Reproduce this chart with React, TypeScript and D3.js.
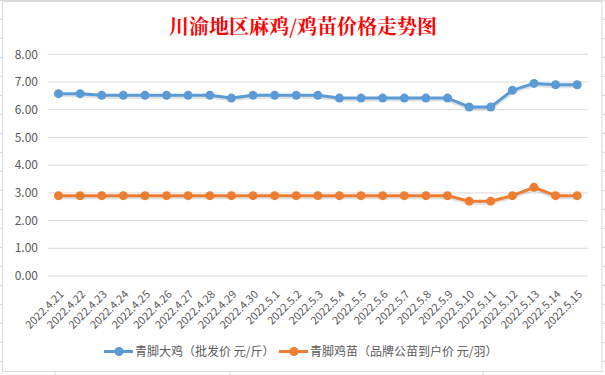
import React from "react";
import * as d3 from "d3";

const categories = [
  "2022.4.21", "2022.4.22", "2022.4.23", "2022.4.24", "2022.4.25", "2022.4.26", "2022.4.27", "2022.4.28", "2022.4.29", "2022.4.30",
  "2022.5.1", "2022.5.2", "2022.5.3", "2022.5.4", "2022.5.5", "2022.5.6", "2022.5.7", "2022.5.8", "2022.5.9", "2022.5.10",
  "2022.5.11", "2022.5.12", "2022.5.13", "2022.5.14", "2022.5.15",
];
const chickenPrice = [6.58, 6.58, 6.52, 6.52, 6.52, 6.52, 6.52, 6.52, 6.42, 6.52, 6.52, 6.52, 6.52, 6.42, 6.42, 6.42, 6.42, 6.42, 6.42, 6.1, 6.1, 6.7, 6.95, 6.9, 6.9];
const chickPrice = [2.9, 2.9, 2.9, 2.9, 2.9, 2.9, 2.9, 2.9, 2.9, 2.9, 2.9, 2.9, 2.9, 2.9, 2.9, 2.9, 2.9, 2.9, 2.9, 2.7, 2.7, 2.9, 3.2, 2.9, 2.9];
const yTicks = [0, 1, 2, 3, 4, 5, 6, 7, 8];
const seriesNames = ["青脚大鸡（批发价 元/斤）", "青脚鸡苗（品牌公苗到户价 元/羽）"];
const title = "川渝地区麻鸡/鸡苗价格走势图";

const W = 605;
const H = 375;
const BLUE = "#5b9bd5";
const ORANGE = "#ed7d31";
const GRID = "#d9d9d9";
const TEXT = "#595959";
const FONT = "'Noto Sans CJK SC', 'Open Sans', sans-serif";

export default function App() {
  const x = d3.scaleBand<string>().domain(categories).range([47.7, 588]);
  const cx = (c: string) => (x(c) ?? 0) + x.bandwidth() / 2;
  const y = d3.scaleLinear().domain([0, 8]).range([276, 54.3]);

  const line = d3
    .line<number>()
    .x((_, i) => cx(categories[i]))
    .y((d) => y(d));

  const rows = d3.range(0, 20).map((k) => 0.3 + 19 * k);
  const cols = [55, 230, 483];

  const series = [
    { data: chickenPrice, color: BLUE },
    { data: chickPrice, color: ORANGE },
  ];

  const legendItems = [
    { name: seriesNames[0], color: BLUE, x0: 104, tx: 135 },
    { name: seriesNames[1], color: ORANGE, x0: 279, tx: 310 },
  ];

  return (
    <svg
      width={W}
      height={H}
      style={{ position: "absolute", left: 0, top: 0, background: "#fff" }}
      fontFamily={FONT}
    >
      {/* spreadsheet background */}
      {rows.map((r, i) => (
        <line key={"r" + i} x1={0} x2={W} y1={r} y2={r} stroke="#d4d4d4" strokeWidth={1} />
      ))}
      {cols.map((c, i) => (
        <line key={"c" + i} x1={c} x2={c} y1={0} y2={H} stroke="#d4d4d4" strokeWidth={1} />
      ))}
      {/* chart area */}
      <rect x={2.5} y={1.5} width={599.5} height={370} fill="#fff" stroke={GRID} strokeWidth={1} />

      {/* title */}
      <text
        x={303}
        y={34}
        textAnchor="middle"
        fill="#ff0000"
        fontSize={20}
        fontWeight={700}
        fontFamily="'Noto Serif CJK SC', 'Noto Sans CJK SC', serif"
      >
        {title}
      </text>

      {/* gridlines & y labels */}
      {yTicks.map((t) => (
        <g key={t}>
          <line x1={47.7} x2={588} y1={y(t)} y2={y(t)} stroke={GRID} strokeWidth={1} />
          <text x={38} y={y(t)} dy="0.35em" textAnchor="end" fontSize={12} fill={TEXT}>
            {t.toFixed(2)}
          </text>
        </g>
      ))}

      {/* x labels */}
      {categories.map((c) => (
        <text
          key={c}
          transform={`translate(${cx(c) + 6},295) rotate(-45)`}
          textAnchor="end"
          fontSize={11}
          fill={TEXT}
        >
          {c}
        </text>
      ))}

      {/* series */}
      {series.map((s, si) => (
        <g key={si}>
          <path
            d={line(s.data) ?? ""}
            fill="none"
            stroke="#000"
            strokeOpacity={0.12}
            strokeWidth={4}
            transform="translate(0,1.5)"
            strokeLinejoin="round"
          />
          <path d={line(s.data) ?? ""} fill="none" stroke={s.color} strokeWidth={3} strokeLinejoin="round" />
          {s.data.map((v, i) => (
            <circle key={i} cx={cx(categories[i])} cy={y(v)} r={4.5} fill={s.color} />
          ))}
        </g>
      ))}

      {/* legend */}
      {legendItems.map((l, i) => (
        <g key={i}>
          <line x1={l.x0} x2={l.x0 + 29} y1={351.5} y2={351.5} stroke={l.color} strokeWidth={3} />
          <circle cx={l.x0 + 15} cy={351.5} r={4.5} fill={l.color} />
          <text x={l.tx} y={351.5} dy="0.35em" fontSize={12} fill={TEXT}>
            {l.name}
          </text>
        </g>
      ))}
    </svg>
  );
}
